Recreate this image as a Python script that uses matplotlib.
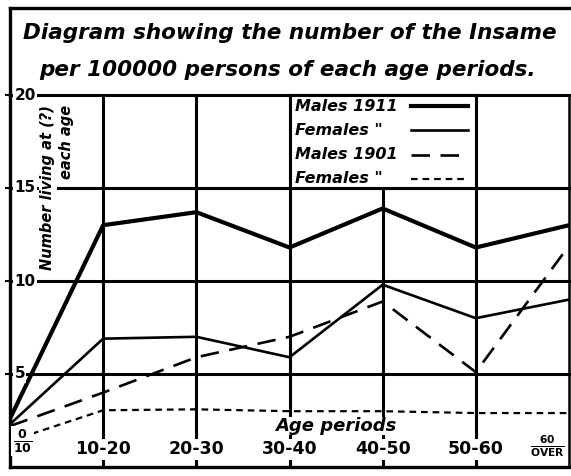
import numpy as np
import matplotlib.pyplot as plt
from matplotlib.lines import Line2D
from matplotlib.patches import Rectangle

# Число божевільних на 100000 осіб кожного вікового періоду
ages = ['0-10', '10-20', '20-30', '30-40', '40-50', '50-60', '60 & over']
tick_labels = [r'$\frac{\mathbf{0}}{\mathbf{10}}$', '10-20', '20-30', '30-40',
               '40-50', '50-60', r'$\frac{\mathbf{60}}{\mathbf{OVER}}$']
males_1911 = [2.6, 13.0, 13.7, 11.8, 13.9, 11.8, 13.0]
females_1911 = [2.3, 6.9, 7.0, 5.9, 9.8, 8.0, 9.0]
males_1901 = [2.2, 4.0, 5.9, 7.0, 8.9, 5.1, 11.9]
females_1901 = [1.4, 3.05, 3.1, 3.0, 3.0, 2.9, 2.9]
series_names = ['Males 1911', 'Females "', 'Males 1901', 'Females "']
y_ticks = [5, 10, 15, 20]

W, H = 571, 476
fig = plt.figure(figsize=(W / 100, H / 100), dpi=100)
ax = fig.add_axes([10 / W, 9 / H, 559 / W, 372 / H])

x = np.arange(len(ages))
ink = 'black'
bold = dict(fontweight='bold', color=ink)
white = dict(facecolor='white', edgecolor='none', pad=1)
styles = [dict(lw=3.0), dict(lw=1.9), dict(lw=1.9, dashes=(7, 4)),
          dict(lw=1.6, dashes=(3, 2.2))]

# Сітка
for xi in x[1:-1]:
    ax.axvline(xi, color=ink, lw=2.2, zorder=1)
for yt in y_ticks:
    ax.axhline(yt, color=ink, lw=2.2, zorder=1, clip_on=False)

# Криві
for vals, st in zip([males_1911, females_1911, males_1901, females_1901], styles):
    ax.plot(x, vals, color=ink, zorder=3, **st)

ax.set_xlim(0, 6)
ax.set_ylim(0, 20)
ax.set_xticks([])
ax.set_yticks(y_ticks)
ax.tick_params(axis='y', direction='inout', length=7, width=1.5, labelleft=False)
ax.spines['top'].set_visible(False)
ax.spines['left'].set_linewidth(2.4)
ax.spines['bottom'].set_linewidth(2.4)
ax.spines['right'].set_linewidth(1.8)

# Підписи осі y
for yt in y_ticks:
    ax.text(0.008, yt, str(yt), transform=ax.get_yaxis_transform(),
            ha='left', va='center', fontsize=11, bbox=white, zorder=4, **bold)

# Підписи вікових періодів
for xi, lab in zip(x, tick_labels):
    if xi == 0:
        ax.text(xi + 0.03, 1.4, lab, ha='left', va='center', fontsize=13,
                bbox=white, zorder=4, **bold)
    elif xi == 6:
        ax.text(xi - 0.04, 1.1, lab, ha='right', va='center', fontsize=11,
                bbox=white, zorder=4, **bold)
    else:
        ax.text(xi, 0.95, lab, ha='center', va='center', fontsize=12.5,
                bbox=white, zorder=4, **bold)

ax.text(3.5, 2.2, 'Age periods', ha='center', va='center', fontsize=13,
        fontstyle='italic', bbox=dict(facecolor='white', edgecolor='none', pad=0),
        zorder=4, **bold)

# Легенда у клітинці сітки: підпис зліва, зразок лінії справа
ax.add_patch(Rectangle((3, 15), 2, 5, facecolor='white', edgecolor=ink,
                       lw=2.2, zorder=4, clip_on=False))
for i, (name, st) in enumerate(zip(series_names, styles)):
    row = 19.4 - i * 1.3
    ax.text(3.06, row, name, ha='left', va='center', fontsize=11.5,
            fontstyle='italic', zorder=5, **bold)
    ax.plot([4.3, 4.92], [row, row], color=ink, zorder=5, **st)

# Назва осі y
fig.text(48 / W, 1 - 188 / H, 'Number living at (?)', rotation=90,
         ha='center', va='center', fontsize=10.5, fontstyle='italic',
         bbox=white, **bold)
fig.text(67 / W, 1 - 142 / H, 'each age', rotation=90, ha='center',
         va='center', fontsize=10.5, fontstyle='italic', bbox=white, **bold)

# Рамка заголовка
fig.add_artist(Line2D([10 / W, 1], [1 - 8 / H, 1 - 8 / H], color=ink, lw=2.4))
fig.add_artist(Line2D([10 / W, 10 / W], [1 - 8 / H, 1 - 95 / H], color=ink, lw=2.4))

fig.text(290 / W, 1 - 33 / H, 'Diagram showing the number of the Insame',
         ha='center', va='center', fontsize=15.5, fontstyle='italic', **bold)
fig.text(287 / W, 1 - 70 / H, 'per 100000 persons of each age periods.',
         ha='center', va='center', fontsize=15.5, fontstyle='italic', **bold)

fig.savefig('out.png', dpi=100)
